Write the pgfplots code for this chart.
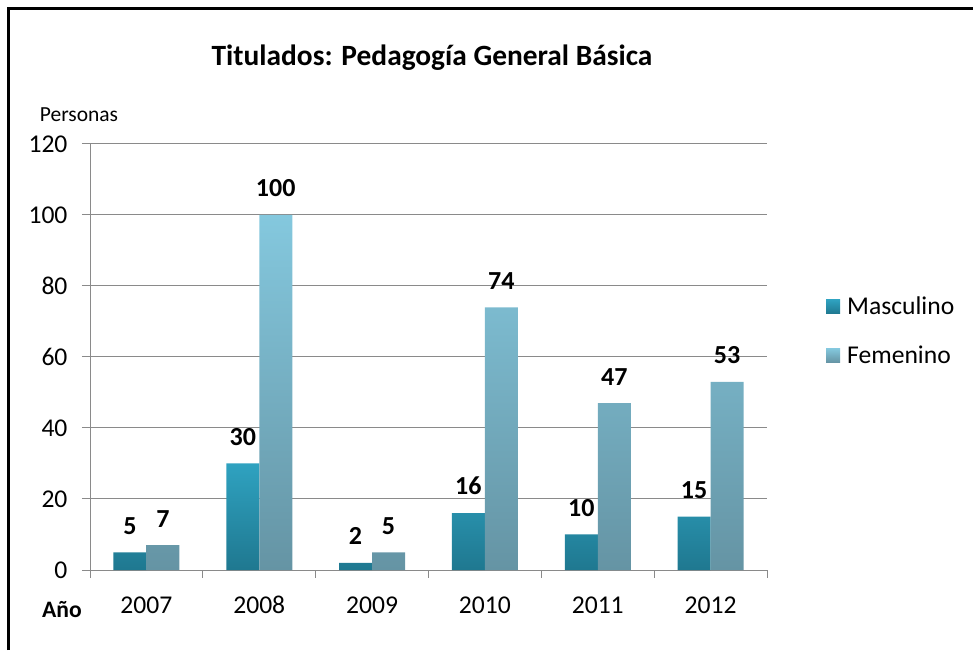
\documentclass[border=0pt]{standalone}
\usepackage{fontspec}
\setmainfont{Carlito}
\usepackage{pgfplots}
\pgfplotsset{compat=1.18}
\definecolor{mtop}{HTML}{2FA2C0}
\definecolor{mbot}{HTML}{1F7890}
\definecolor{ftop}{HTML}{84C8DE}
\definecolor{fbot}{HTML}{6594A4}
\definecolor{gridc}{HTML}{8A8A8A}
\begin{document}
\begin{tikzpicture}
\useasboundingbox (0pt,0pt) rectangle (973pt,650pt);
\draw[line width=3pt] (8.5pt,0pt) -- (8.5pt,641.5pt) -- (973pt,641.5pt);
\begin{axis}[
  at={(90pt,80pt)}, anchor=south west,
  scale only axis, width=677pt, height=426pt,
  ymin=0, ymax=120, ytick={0,20,...,120},
  xmin=-0.5, xmax=5.5, xtick={0,...,5},
  xticklabels={2007,2008,2009,2010,2011,2012},
  minor xtick={-0.5,0.5,...,5.5},
  ybar=0pt, bar width=33pt,
  axis x line*=bottom, axis y line*=left,
  axis line style={-, gridc, line width=1pt},
  ymajorgrids, grid style={gridc, line width=1pt},
  tick align=outside, major tick length=8pt, minor tick length=8pt,
  major x tick style={draw=none},
  minor x tick style={gridc, line width=1pt},
  major y tick style={gridc, line width=1pt},
  /pgf/number format/assume math mode=true,
  tick label style={font=\fontsize{25.6}{30}\selectfont},
  xticklabel style={anchor=north, text height=16.5pt, text depth=0pt, yshift=-15pt},
  yticklabel style={xshift=-11pt},
  nodes near coords,
  nodes near coords style={font=\bfseries\fontsize{26}{30}\selectfont, yshift=14.5pt},
  legend style={draw=none, fill=none, at={(1.0827,0.561)}, anchor=west,
    font=\fontsize{25.6}{30}\selectfont, row sep=25.5pt},
  legend cell align=left,
  legend image code/.code={\path[#1] (0pt,-7pt) rectangle (14pt,7pt); \path (19pt,0pt);},
]
\addplot[draw=none, top color=mtop, bottom color=mbot] coordinates {(0,5) (1,30) (2,2) (3,16) (4,10) (5,15)};
\addplot[draw=none, top color=ftop, bottom color=fbot] coordinates {(0,7) (1,100) (2,5) (3,74) (4,47) (5,53)};
\legend{Masculino, Femenino}
\end{axis}
\node[anchor=base, font=\bfseries\fontsize{29.4}{34}\selectfont] at (432pt,584pt) {Titulados: Pedagogía General Básica};
\node[anchor=base, font=\fontsize{21.5}{25}\selectfont] at (79pt,528pt) {Personas};
\node[anchor=base, font=\bfseries\fontsize{23.6}{28}\selectfont] at (62pt,33pt) {Año};
\end{tikzpicture}
\end{document}
